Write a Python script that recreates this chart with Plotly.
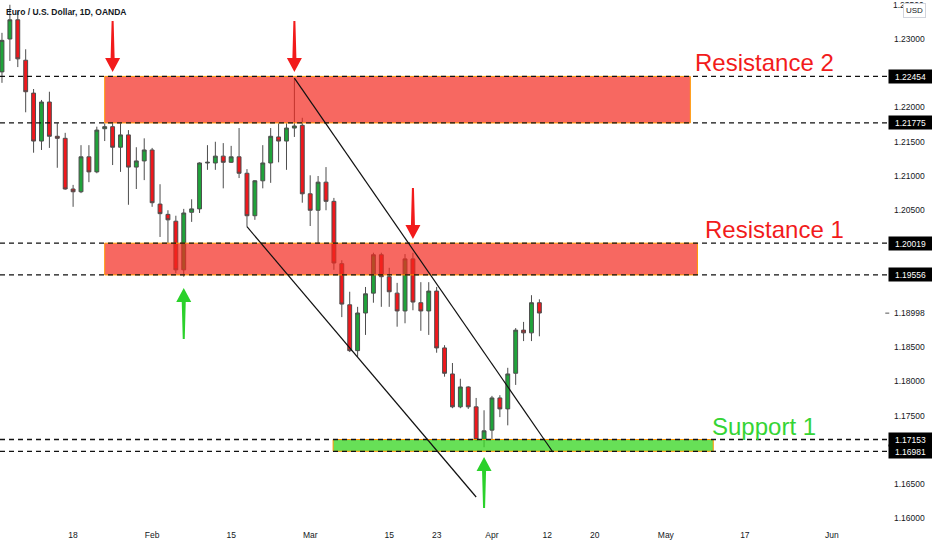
import pandas as pd
import plotly.graph_objects as go

# ---------------- data ----------------
dates = ["2021-01-05", "2021-01-06", "2021-01-07", "2021-01-08", "2021-01-11", "2021-01-12", "2021-01-13",
         "2021-01-14", "2021-01-15", "2021-01-18", "2021-01-19", "2021-01-20", "2021-01-21", "2021-01-22",
         "2021-01-25", "2021-01-26", "2021-01-27", "2021-01-28", "2021-01-29", "2021-02-01", "2021-02-02",
         "2021-02-03", "2021-02-04", "2021-02-05", "2021-02-08", "2021-02-09", "2021-02-10", "2021-02-11",
         "2021-02-12", "2021-02-15", "2021-02-16", "2021-02-17", "2021-02-18", "2021-02-19", "2021-02-22",
         "2021-02-23", "2021-02-24", "2021-02-25", "2021-02-26", "2021-03-01", "2021-03-02", "2021-03-03",
         "2021-03-04", "2021-03-05", "2021-03-08", "2021-03-09", "2021-03-10", "2021-03-11", "2021-03-12",
         "2021-03-15", "2021-03-16", "2021-03-17", "2021-03-18", "2021-03-19", "2021-03-22", "2021-03-23",
         "2021-03-24", "2021-03-25", "2021-03-26", "2021-03-29", "2021-03-30", "2021-03-31", "2021-04-01",
         "2021-04-02", "2021-04-05", "2021-04-06", "2021-04-07", "2021-04-08", "2021-04-09"]

opens = [1.2252, 1.2300, 1.2328, 1.2269, 1.2221, 1.2151, 1.2208, 1.2158, 1.2155, 1.2081, 1.2077, 1.2128,
         1.2106, 1.2169, 1.2172, 1.2142, 1.2160, 1.2113, 1.2122, 1.2138, 1.2059, 1.2044, 1.2034, 1.1963,
         1.2047, 1.2052, 1.2119, 1.2119, 1.2129, 1.2120, 1.2128, 1.2104, 1.2042, 1.2093, 1.2119, 1.2157,
         1.2151, 1.2170, 1.2174, 1.2074, 1.2050, 1.2091, 1.2063, 1.1972, 1.1912, 1.1845, 1.1900, 1.1929,
         1.1985, 1.1953, 1.1929, 1.1903, 1.1979, 1.1915, 1.1903, 1.1932, 1.1849, 1.1811, 1.1763, 1.1792,
         1.1763, 1.1715, 1.1729, 1.1776, 1.1760, 1.1812, 1.1875, 1.1871, 1.1915]
highs = [1.2309, 1.2350, 1.2340, 1.2285, 1.2227, 1.2211, 1.2223, 1.2177, 1.2163, 1.2087, 1.2145, 1.2145,
         1.2172, 1.2177, 1.2177, 1.2177, 1.2167, 1.2142, 1.2155, 1.2141, 1.2088, 1.2050, 1.2042, 1.2052,
         1.2066, 1.2120, 1.2145, 1.2150, 1.2148, 1.2144, 1.2170, 1.2110, 1.2094, 1.2145, 1.2170, 1.2177,
         1.2177, 1.2243, 1.2185, 1.2101, 1.2100, 1.2113, 1.2068, 1.1977, 1.1931, 1.1909, 1.1938, 1.1988,
         1.1988, 1.1966, 1.1944, 1.1986, 1.1988, 1.1945, 1.1945, 1.1938, 1.1853, 1.1827, 1.1804, 1.1793,
         1.1776, 1.1758, 1.1779, 1.1780, 1.1820, 1.1878, 1.1887, 1.1926, 1.1920]
lows = [1.2236, 1.2268, 1.2259, 1.2193, 1.2134, 1.2138, 1.2141, 1.2112, 1.2080, 1.2055, 1.2075, 1.2091,
        1.2104, 1.2151, 1.2116, 1.2106, 1.2058, 1.2081, 1.2094, 1.2055, 1.2011, 1.2002, 1.1958, 1.1953,
        1.2033, 1.2046, 1.2109, 1.2109, 1.2082, 1.2119, 1.2097, 1.2026, 1.2036, 1.2082, 1.2090, 1.2120,
        1.2109, 1.2157, 1.2061, 1.2027, 1.2002, 1.2050, 1.1963, 1.1894, 1.1843, 1.1836, 1.1868, 1.1915,
        1.1909, 1.1909, 1.1880, 1.1885, 1.1904, 1.1874, 1.1868, 1.1842, 1.1807, 1.1761, 1.1761, 1.1760,
        1.1713, 1.1704, 1.1715, 1.1748, 1.1736, 1.1795, 1.1859, 1.1859, 1.1866]
closes = [1.2298, 1.2328, 1.2271, 1.2223, 1.2151, 1.2208, 1.2158, 1.2155, 1.2081, 1.2077, 1.2128, 1.2106,
          1.2167, 1.2172, 1.2142, 1.2160, 1.2113, 1.2122, 1.2138, 1.2061, 1.2045, 1.2036, 1.1963, 1.2046,
          1.2052, 1.2119, 1.2120, 1.2129, 1.2120, 1.2128, 1.2104, 1.2042, 1.2093, 1.2119, 1.2158, 1.2151,
          1.2170, 1.2173, 1.2074, 1.2050, 1.2091, 1.2063, 1.1973, 1.1913, 1.1845, 1.1900, 1.1928, 1.1985,
          1.1953, 1.1931, 1.1903, 1.1979, 1.1916, 1.1903, 1.1932, 1.1849, 1.1812, 1.1763, 1.1792, 1.1763,
          1.1715, 1.1728, 1.1776, 1.1760, 1.1811, 1.1875, 1.1871, 1.1915, 1.1900]

# horizontal levels (boxed price labels on the right)
levels = [1.22454, 1.21775, 1.20019, 1.19556, 1.17153, 1.16981]
last_price = 1.18998
top_price_label = 1.235

# zones
zone_names = ["Resistance 2", "Resistance 1", "Support 1"]
zone_low = [1.21775, 1.19556, 1.16981]
zone_high = [1.22454, 1.20019, 1.17153]
zone_start = [("2021-01-22", 0.0), ("2021-01-22", 0.0), ("2021-03-04", -0.1)]
zone_end = [("2021-05-06", 0.1), ("2021-05-07", 0.0), ("2021-05-11", 0.0)]
zone_label_x = [("2021-05-06", 0.47), ("2021-05-10", -0.3), ("2021-05-11", -0.4)]
zone_label_y = [1.22664, 1.20212, 1.17336]
zone_fill = ["rgba(244,40,30,0.70)", "rgba(244,40,30,0.70)", "rgba(60,215,40,0.78)"]
zone_text_color = ["#F21B1B", "#F21B1B", "#35D435"]

# channel lines: (date, offset, price)
channel_upper = [("2021-02-25", 0.0, 1.2243), ("2021-04-13", -0.3, 1.16971)]
channel_lower = [("2021-02-17", 0.0, 1.2026), ("2021-03-30", 0.0, 1.16314)]

# arrows
down_arrow_dates = ["2021-01-25", "2021-02-25", "2021-03-18"]
down_arrow_top = [1.23263, 1.23263, 1.20825]
up_arrow_dates = ["2021-02-05", "2021-03-31"]
up_arrow_tip = [1.19365, 1.16898]

# x-axis ticks
tick_dates = ["2021-01-18", "2021-02-01", "2021-02-15", "2021-03-01", "2021-03-15", "2021-03-23",
              "2021-04-01", "2021-04-12", "2021-04-20", "2021-05-03", "2021-05-17", "2021-06-01"]
tick_text = ["18", "Feb", "15", "Mar", "15", "23", "Apr", "12", "20", "May", "17", "Jun"]

y_ticks = [1.16, 1.165, 1.175, 1.18, 1.185, 1.205, 1.21, 1.215, 1.22, 1.23]

# ---------------- helpers ----------------
def bar(d, off=0.0):
    return pd.Timestamp(d) + pd.Timedelta(hours=12) + pd.Timedelta(hours=24 * off)

FONT = "Liberation Sans, Arial, sans-serif"
DARK = "#131722"

x = [bar(d) for d in dates]

fig = go.Figure()
fig.add_trace(go.Candlestick(
    x=x, open=opens, high=highs, low=lows, close=closes,
    increasing=dict(fillcolor="#1FA33A", line=dict(color="#4d4d4d", width=1)),
    decreasing=dict(fillcolor="#F0171C", line=dict(color="#4d4d4d", width=1)),
    whiskerwidth=0, showlegend=False, hoverinfo="x+y",
))

shapes = []
# zones
for lo, hi, s, e, fc in zip(zone_low, zone_high, zone_start, zone_end, zone_fill):
    shapes.append(dict(type="rect", xref="x", yref="y", x0=bar(*s), x1=bar(*e), y0=lo, y1=hi,
                       fillcolor=fc, line=dict(color="#FF9800", width=1), layer="above"))
# dashed levels
for lv in levels:
    shapes.append(dict(type="line", xref="paper", yref="y", x0=0, x1=1.009, y0=lv, y1=lv,
                       line=dict(color="#111111", width=1.3, dash="5px,4px"), layer="above"))
# channel lines
for ln in (channel_upper, channel_lower):
    (d0, o0, p0), (d1, o1, p1) = ln
    shapes.append(dict(type="line", xref="x", yref="y", x0=bar(d0, o0), y0=p0, x1=bar(d1, o1), y1=p1,
                       line=dict(color="#111111", width=1.2), layer="above"))
# down arrows (red)
down_path = "M -1 0 L 1 0 L 2 -37 L 7.5 -37 L 0 -51 L -7.5 -37 L -2 -37 Z"
for d, p in zip(down_arrow_dates, down_arrow_top):
    shapes.append(dict(type="path", xsizemode="pixel", ysizemode="pixel", xref="x", yref="y",
                       xanchor=bar(d), yanchor=p, path=down_path,
                       fillcolor="#F21B1B", line=dict(width=0), layer="above"))
# up arrows (green)
up_path = "M 0 0 L 7.5 -14 L 2 -14 L 1 -51 L -1 -51 L -2 -14 L -7.5 -14 Z"
for d, p in zip(up_arrow_dates, up_arrow_tip):
    shapes.append(dict(type="path", xsizemode="pixel", ysizemode="pixel", xref="x", yref="y",
                       xanchor=bar(d), yanchor=p, path=up_path,
                       fillcolor="#2BD12B", line=dict(width=0), layer="above"))
# last price tick dash
shapes.append(dict(type="line", xref="paper", yref="y", x0=1.006, x1=1.0105, y0=last_price, y1=last_price,
                   line=dict(color="#555555", width=1)))

annotations = []
for name, (d, o), yv, col in zip(zone_names, zone_label_x, zone_label_y, zone_text_color):
    annotations.append(dict(x=bar(d, o), y=yv, xref="x", yref="y", text=name, showarrow=False,
                            xanchor="left", yanchor="middle",
                            font=dict(family=FONT, size=24, color=col)))
for lv in levels:
    annotations.append(dict(x=1, y=lv, xref="paper", yref="y", text=f"{lv:.5f}", showarrow=False,
                            xanchor="left", yanchor="middle", xshift=8, width=41, height=11,
                            bgcolor="#000000", borderpad=1,
                            font=dict(family=FONT, size=8.5, color="#ffffff")))
annotations.append(dict(x=1, y=last_price, xref="paper", yref="y", text=f"{last_price:.5f}", showarrow=False,
                        xanchor="left", yanchor="middle", xshift=12,
                        font=dict(family=FONT, size=8.5, color=DARK)))
# top tick label partly hidden behind the currency box (as on the reference)
annotations.append(dict(x=1, y=top_price_label, xref="paper", yref="y", text=f"{top_price_label:.5f}",
                        showarrow=False, xanchor="left", yanchor="middle", xshift=11,
                        font=dict(family=FONT, size=8.5, color=DARK)))
annotations.append(dict(x=1, y=1, xref="paper", yref="paper", text="USD", showarrow=False,
                        xanchor="left", yanchor="top", xshift=23, yshift=-3,
                        bgcolor="#ffffff", bordercolor="#d1d4dc", borderwidth=1, borderpad=2,
                        font=dict(family=FONT, size=8, color=DARK)))
annotations.append(dict(x=0, y=1, xref="paper", yref="paper", text="<b>Euro / U.S. Dollar, 1D, OANDA</b>",
                        showarrow=False, xanchor="left", yanchor="middle", xshift=4, yshift=-12,
                        font=dict(family=FONT, size=8.5, color=DARK)))

fig.update_layout(
    width=932, height=550,
    margin=dict(l=0, r=52, t=0, b=22),
    paper_bgcolor="#ffffff", plot_bgcolor="#ffffff",
    shapes=shapes, annotations=annotations,
    showlegend=False,
    xaxis=dict(
        rangeslider=dict(visible=False),
        rangebreaks=[dict(bounds=["sat", "mon"])],
        range=[bar("2021-01-05", -0.25), bar("2021-06-09", 0.1)],
        tickvals=[bar(d) for d in tick_dates], ticktext=tick_text,
        showgrid=False, zeroline=False, showline=False, ticks="",
        tickfont=dict(family=FONT, size=8.5, color=DARK),
    ),
    yaxis=dict(
        side="right",
        range=[1.158613, 1.235693],
        tickvals=y_ticks, tickformat=".5f",
        showgrid=False, zeroline=False, showline=False, ticks="",
        ticklabelstandoff=13,
        tickfont=dict(family=FONT, size=8.5, color=DARK),
    ),
)

fig.write_html("out.html", config={"displayModeBar": False},
               post_script="document.body.style.margin='0';document.body.style.padding='0';")
